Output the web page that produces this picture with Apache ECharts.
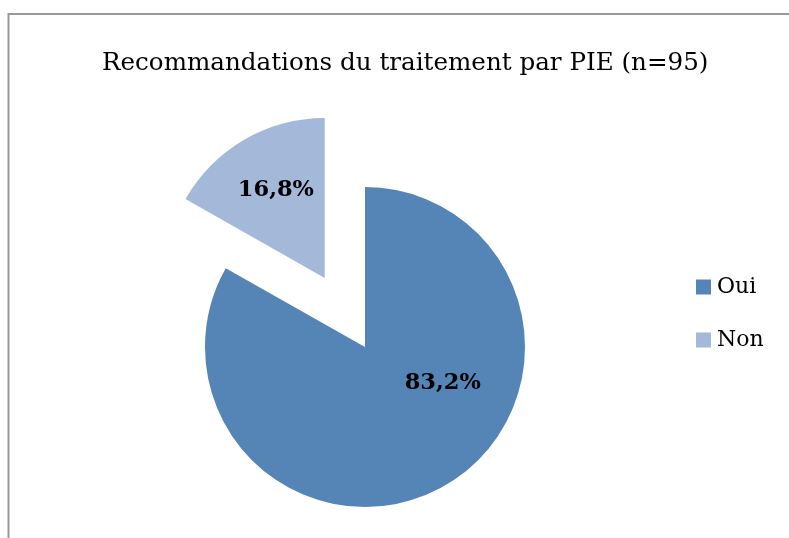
<!DOCTYPE html>
<html><head><meta charset="utf-8">
<script src="https://cdn.jsdelivr.net/npm/echarts@6/dist/echarts.min.js"></script>
<style>html,body{margin:0;padding:0;background:#fff}#c{width:789px;height:538px}</style>
</head><body><div id="c"></div>
<script>
const titleText = 'Recommandations du traitement par PIE (n=95)';
const categories = ['Oui', 'Non'];
const values = [83.2, 16.8];
const colors = ['#5585b6', '#a4b8da'];
const labelShift = [[36, -36], [-7, -16]];

const chart = echarts.init(document.getElementById('c'));
chart.setOption({
  animation: false,
  graphic: [{type: 'rect', shape: {x: 8.5, y: 14, width: 900, height: 700}, style: {fill: 'none', stroke: '#999', lineWidth: 2}, silent: true}],
  title: {text: titleText, left: 102, top: 51, padding: 0, textStyle: {fontFamily: 'DejaVu Serif', fontWeight: 'normal', fontSize: 24.6, color: '#000'}},
  legend: {orient: 'vertical', left: 696, top: 276, padding: 0, icon: 'rect', itemWidth: 15, itemHeight: 15, itemGap: 31, selectedMode: false,
    textStyle: {fontFamily: 'DejaVu Serif', fontSize: 22, color: '#000', padding: [0,0,0,1]}, data: categories},
  series: [{
    type: 'pie', center: [365, 347], radius: 160, startAngle: 90, clockwise: true,
    selectedMode: 'multiple', selectedOffset: 80,
    label: {show: true, position: 'inside', formatter: p => p.value.toFixed(1).replace('.', ',') + '%', fontFamily: 'DejaVu Serif', fontWeight: 'bold', fontSize: 22.5, color: '#000'},
    labelLine: {show: false},
    labelLayout: p => ({dx: labelShift[p.dataIndex][0], dy: labelShift[p.dataIndex][1]}),
    emphasis: {disabled: true},
    data: categories.map((c, i) => ({name: c, value: values[i], selected: i === 1, itemStyle: {color: colors[i]}}))
  }]
});
</script></body></html>
